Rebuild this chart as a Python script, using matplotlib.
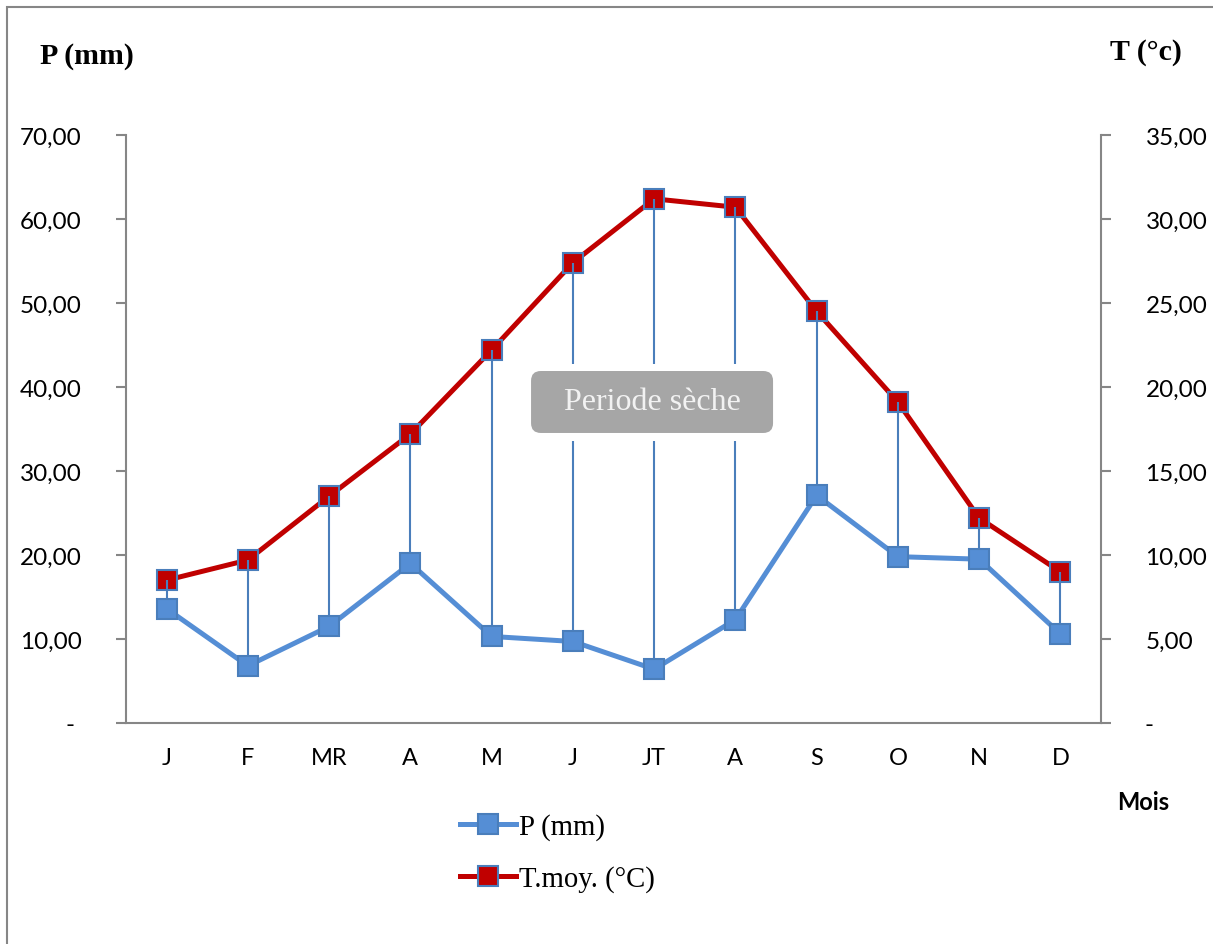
import numpy as np
import matplotlib
matplotlib.use("Agg")
import matplotlib.pyplot as plt
from matplotlib.patches import FancyBboxPatch, Rectangle

plt.rcParams['font.family'] = ['Lato', 'DejaVu Sans']

# monthly climate data
months = ["J", "F", "MR", "A", "M", "J", "JT", "A", "S", "O", "N", "D"]
precip = [13.6, 6.8, 11.5, 19.0, 10.3, 9.7, 6.4, 12.3, 27.1, 19.8, 19.5, 10.6]   # P (mm)
temp = [8.5, 9.7, 13.5, 17.2, 22.2, 27.4, 31.2, 30.7, 24.5, 19.1, 12.2, 9.0]     # T moy (°C)
p_ticks = np.arange(0, 71, 10)
t_ticks = np.arange(0, 36, 5)

blue = '#558ED5'
blue_edge = '#4A7EBB'
red = '#C00000'
grey = '#868686'
serif = 'Liberation Serif'


def excel_fmt(v):
    # accounting style: zero shown as a dash
    return "- " if v == 0 else f"{v:.2f}".replace(".", ",")


fig = plt.figure(figsize=(12.13, 9.45), dpi=100)
ax = fig.add_axes([0.1039, 0.2339, 0.8038, 0.6222])
ax2 = ax.twinx()
ax.set_zorder(ax2.get_zorder() + 1)
ax.patch.set_visible(False)

x = np.arange(len(months))
ax.set_xlim(-0.5, len(months) - 0.5)
ax.set_ylim(0, 70)
ax2.set_ylim(0, 35)

# temperature on the right axis
ax2.plot(x, temp, color=red, lw=3.6, marker='s', ms=14, mfc=red, mec=blue_edge,
         mew=1.5, zorder=3, label='T.moy. (°C)')

# high-low lines between the two series
t_disp = ax2.transData.transform(np.column_stack([x, temp]))
t_in_p = ax.transData.inverted().transform(t_disp)[:, 1]
ax.vlines(x, precip, t_in_p, color=blue_edge, lw=1.5, zorder=2)

ax.plot(x, precip, color=blue, lw=3.6, marker='s', ms=14, mfc=blue, mec=blue_edge,
        mew=1.5, zorder=3, label='P (mm)')

# "Periode sèche" box with white gap around it
ax.add_patch(Rectangle((0.405, 0.480), 0.269, 0.131, transform=ax.transAxes,
                       fc='white', ec='none', zorder=4))
ax.add_patch(FancyBboxPatch((0.4154, 0.4932), 0.2482, 0.1054,
                            boxstyle="round,pad=0,rounding_size=0.01",
                            mutation_aspect=975 / 588, transform=ax.transAxes,
                            fc='#A6A6A6', ec='none', zorder=5))
ax.text(0.5395, 0.546, "Periode sèche", transform=ax.transAxes, ha='center', va='center',
        color='#F2F2F2', fontsize=23, family=serif, zorder=6)

# axes styling
for a in (ax, ax2):
    a.spines['top'].set_visible(False)
ax.spines['right'].set_visible(False)
ax2.spines['left'].set_visible(False)
ax2.spines['bottom'].set_visible(False)
for s in ('left', 'bottom'):
    ax.spines[s].set_color(grey)
    ax.spines[s].set_linewidth(1.5)
ax2.spines['right'].set_color(grey)
ax2.spines['right'].set_linewidth(1.5)

ax.set_xticks(x, months)
ax.set_yticks(p_ticks, [excel_fmt(v) for v in p_ticks])
ax2.set_yticks(t_ticks, [excel_fmt(v) for v in t_ticks])
ax.tick_params(axis='x', length=0, pad=17, labelsize=17)
ax.tick_params(axis='y', direction='out', length=7, width=1.5, color=grey, pad=25, labelsize=17.5)
ax2.tick_params(axis='y', direction='out', length=7, width=1.5, color=grey, pad=25, labelsize=17.5)

# axis titles
fig.text(40 / 1213, 1 - 57 / 945, "P (mm)", ha='left', va='center', fontsize=21.5,
         fontweight='bold', family=serif)
fig.text(1110 / 1213, 1 - 52 / 945, "T (°c)", ha='left', va='center', fontsize=21.5,
         fontweight='bold', family=serif)
fig.text(1117 / 1213, 1 - 803 / 945, "Mois", ha='left', va='center', fontsize=17,
         fontweight='bold')

h1, l1 = ax.get_legend_handles_labels()
h2, l2 = ax2.get_legend_handles_labels()
fig.legend(h1 + h2, l1 + l2, loc='upper left', bbox_to_anchor=(460 / 1213, 1 - 814 / 945),
           frameon=False, prop={'family': serif, 'size': 20.7}, handlelength=1.95,
           handletextpad=0.1, labelspacing=0.88, borderpad=0, borderaxespad=0)

# outer chart frame (right/bottom edges fall outside the image)
fig.add_artist(Rectangle((7 / 1213, -0.1), 1.2, 1.1 - 8 / 945, transform=fig.transFigure,
                         fill=False, ec=grey, lw=1.5))

fig.savefig('out.png', dpi=100)
